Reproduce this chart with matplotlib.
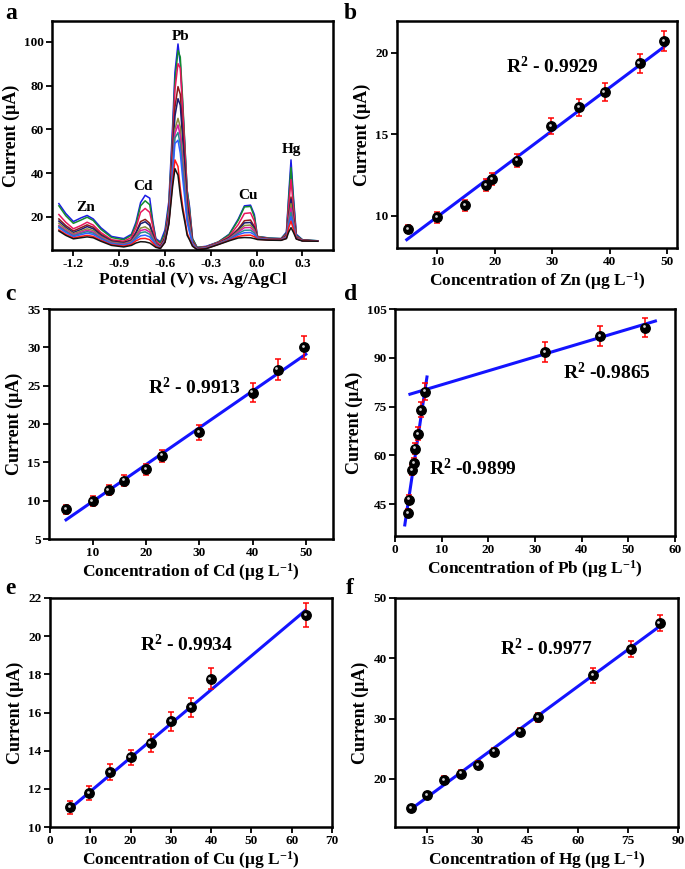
import numpy as np
import matplotlib
matplotlib.use("Agg")
import matplotlib.pyplot as plt
from matplotlib.transforms import offset_copy

plt.rcParams['font.family'] = ['Liberation Serif', 'DejaVu Serif']
plt.rcParams['font.weight'] = 'bold'
plt.rcParams['axes.labelweight'] = 'bold'
plt.rcParams['axes.unicode_minus'] = False
plt.rcParams['mathtext.fontset'] = 'custom'
plt.rcParams['mathtext.rm'] = 'Liberation Serif:bold'
plt.rcParams['mathtext.bf'] = 'Liberation Serif:bold'
plt.rcParams['mathtext.it'] = 'Liberation Serif:bold'
plt.rcParams['mathtext.default'] = 'bf'

# ---- panel a : stripping voltammograms ----
potential = [-1.295, -1.25, -1.20, -1.15, -1.11, -1.07, -1.02, -0.95, -0.87, -0.82,
             -0.79, -0.76, -0.73, -0.70, -0.68, -0.66, -0.63, -0.60, -0.575, -0.55,
             -0.535, -0.515, -0.50, -0.485, -0.47, -0.455, -0.44, -0.42, -0.39, -0.33,
             -0.25, -0.18, -0.12, -0.08, -0.04, -0.015, 0.005, 0.08, 0.16, 0.195,
             0.21, 0.225, 0.24, 0.26, 0.30, 0.40]

curves = [
    [26.0, 21.5, 17.8, 19.5, 20.6, 19.0, 15.0, 11.0, 10.0, 12.0, 17.5, 26.5, 29.8, 28.5, 18.0, 10.0,
     8.5, 14.0, 27.0, 62.0, 86.0, 99.0, 90.0, 72.0, 52.0, 32.0, 25.0, 10.0, 6.0, 6.5, 8.5, 12.0,
     19.0, 25.0, 25.3, 21.0, 11.0, 10.3, 10.0, 13.0, 30.0, 46.0, 30.0, 12.0, 9.5, 9.0],
    [25.0, 20.5, 17.0, 18.5, 19.8, 18.3, 14.3, 10.5, 9.5, 11.5, 16.5, 25.0, 27.3, 25.5, 17.0, 9.5,
     8.0, 12.5, 25.0, 58.0, 82.0, 96.0, 93.0, 74.0, 53.0, 32.0, 24.0, 10.0, 6.0, 6.3, 8.5, 11.8,
     18.5, 24.5, 24.7, 20.0, 11.0, 10.2, 10.0, 12.5, 28.0, 42.5, 28.0, 11.5, 9.5, 9.0],
    [21.0, 17.5, 14.5, 16.0, 17.5, 16.2, 12.8, 9.5, 8.8, 10.5, 15.0, 22.0, 23.8, 22.0, 15.5, 9.0,
     7.0, 11.0, 23.0, 55.0, 78.0, 90.0, 88.0, 70.0, 50.0, 30.0, 22.0, 9.0, 5.8, 6.2, 8.3, 11.0,
     16.5, 21.5, 21.8, 18.0, 10.8, 10.0, 9.8, 12.0, 25.0, 37.0, 25.0, 11.0, 9.3, 8.9],
    [19.0, 16.0, 13.5, 15.0, 16.3, 15.2, 12.0, 9.0, 8.3, 9.5, 13.0, 17.8, 18.8, 17.0, 12.5, 8.0,
     6.3, 10.5, 21.0, 50.0, 70.0, 79.5, 76.0, 60.0, 44.0, 27.0, 20.0, 8.5, 5.6, 6.0, 8.0, 10.5,
     14.5, 18.2, 18.5, 15.5, 10.5, 9.9, 9.7, 11.5, 20.5, 29.0, 20.0, 10.5, 9.2, 8.9],
    [18.0, 15.2, 12.8, 14.2, 15.5, 14.5, 11.5, 8.7, 8.0, 9.2, 12.5, 16.8, 17.7, 16.0, 11.8, 7.8,
     6.2, 10.0, 20.0, 47.0, 66.0, 74.0, 71.0, 56.0, 41.0, 25.0, 18.5, 8.3, 5.5, 6.0, 7.9, 10.3,
     14.0, 17.2, 17.4, 14.8, 10.4, 9.8, 9.6, 11.3, 20.0, 28.0, 19.5, 10.4, 9.2, 8.9],
    [17.0, 14.5, 12.2, 13.5, 14.5, 13.7, 11.0, 8.4, 7.7, 8.8, 11.5, 14.8, 15.4, 14.0, 10.8, 7.5,
     6.0, 9.5, 19.0, 44.0, 60.0, 65.0, 61.0, 48.0, 36.0, 22.0, 16.5, 8.0, 5.4, 5.9, 7.8, 10.0,
     13.5, 16.0, 16.2, 14.0, 10.3, 9.7, 9.5, 11.0, 19.0, 26.0, 18.5, 10.3, 9.1, 8.9],
    [16.0, 13.8, 11.7, 12.9, 13.8, 13.0, 10.6, 8.1, 7.4, 8.5, 11.0, 13.7, 14.2, 13.0, 10.2, 7.2,
     5.9, 9.2, 18.5, 43.0, 58.0, 62.0, 57.0, 45.0, 33.0, 20.5, 15.0, 7.8, 5.3, 5.8, 7.7, 9.8,
     13.0, 15.0, 15.1, 13.2, 10.2, 9.6, 9.5, 10.8, 18.0, 24.0, 17.5, 10.2, 9.1, 8.9],
    [15.5, 13.3, 11.3, 12.4, 13.2, 12.5, 10.2, 7.9, 7.2, 8.2, 10.5, 12.7, 13.1, 12.0, 9.7, 7.0,
     5.8, 9.0, 18.0, 42.0, 56.0, 58.5, 53.0, 42.0, 31.0, 19.0, 14.0, 7.6, 5.2, 5.7, 7.6, 9.6,
     12.4, 13.8, 13.9, 12.5, 10.0, 9.5, 9.4, 10.6, 17.0, 22.0, 16.5, 10.1, 9.0, 8.9],
    [15.0, 12.8, 10.9, 11.8, 12.5, 11.9, 9.8, 7.6, 7.0, 7.9, 9.8, 11.3, 11.6, 10.8, 9.0, 6.8,
     5.7, 8.8, 17.5, 40.0, 53.5, 55.0, 49.0, 38.0, 28.0, 17.5, 13.0, 7.4, 5.1, 5.6, 7.5, 9.4,
     11.8, 12.7, 12.8, 11.8, 9.9, 9.5, 9.4, 10.4, 16.0, 20.0, 15.5, 10.0, 9.0, 8.9],
    [14.0, 12.0, 10.3, 11.0, 11.5, 11.0, 9.2, 7.2, 6.6, 7.4, 9.0, 10.0, 10.1, 9.5, 8.0, 6.4,
     5.6, 8.5, 17.0, 36.0, 46.0, 43.0, 33.0, 25.0, 19.0, 12.5, 10.0, 6.8, 5.0, 5.5, 7.4, 9.2,
     11.0, 11.5, 11.6, 10.9, 9.7, 9.4, 9.3, 10.2, 15.0, 18.0, 14.5, 9.9, 9.0, 8.8],
    [13.5, 11.5, 9.9, 10.4, 10.8, 10.4, 8.8, 6.9, 6.2, 6.9, 8.0, 8.6, 8.5, 8.0, 7.0, 6.0,
     5.5, 8.3, 16.5, 34.0, 42.0, 39.0, 30.0, 23.0, 17.5, 11.5, 9.5, 6.5, 5.0, 5.4, 7.3, 9.0,
     10.3, 10.5, 10.4, 10.0, 9.6, 9.3, 9.2, 10.0, 13.0, 15.0, 13.0, 9.8, 8.9, 8.8],
]
curve_colors = ['#1a1ae6', '#138a2e', '#e8175d', '#8b1a1a', '#1c1c70', '#8c8a3a',
                '#d81ba0', '#2a8c8c', '#3060ff', '#ff1a1a', '#141414']

peak_names = ['Zn', 'Cd', 'Pb', 'Cu', 'Hg']
peak_label_x = [-1.117, -0.742, -0.501, -0.054, 0.23]
peak_label_y = [24.3, 34.0, 102.3, 29.5, 50.8]

# ---- calibration data ----
zn_conc = [4.96, 10.0, 14.9, 18.5, 19.6, 23.9, 29.8, 34.7, 39.1, 45.2, 49.5]
zn_curr = [9.18, 9.92, 10.65, 11.88, 12.24, 13.39, 15.51, 16.65, 17.59, 19.35, 20.71]
zn_err = [0.25, 0.33, 0.33, 0.36, 0.37, 0.41, 0.48, 0.51, 0.53, 0.57, 0.62]
zn_fit_x, zn_fit_y = [4.7, 49.6], [8.55, 20.4]

cd_conc = [5.0, 10.0, 13.0, 15.9, 20.0, 23.1, 30.0, 40.0, 44.7, 49.7]
cd_curr = [8.87, 9.96, 11.39, 12.6, 14.09, 15.87, 18.9, 24.1, 27.1, 30.0]
cd_err = [0.6, 0.6, 0.6, 0.7, 0.75, 0.8, 1.0, 1.2, 1.4, 1.5]
cd_fit_x, cd_fit_y = [5.0, 50.0], [7.5, 29.1]

pb_conc = [2.8, 3.1, 3.7, 4.05, 4.3, 4.9, 5.6, 6.4, 32.1, 44.0, 53.6]
pb_curr = [42.3, 46.4, 55.5, 57.5, 62.1, 66.6, 74.0, 79.6, 91.8, 96.7, 99.3]
pb_err = [1.2, 1.3, 1.5, 1.6, 1.8, 2.0, 2.3, 2.6, 3.0, 3.0, 3.0]
pb_fit_low_x, pb_fit_low_y = [2.1, 6.85], [38.6, 84.1]
pb_fit_high_x, pb_fit_high_y = [3.2, 55.8], [78.8, 101.3]

cu_conc = [4.97, 9.8, 14.9, 20.0, 25.0, 30.0, 35.0, 39.9, 63.6]
cu_curr = [11.03, 11.78, 12.88, 13.65, 14.4, 15.54, 16.27, 17.76, 21.1]
cu_err = [0.35, 0.35, 0.4, 0.4, 0.45, 0.5, 0.5, 0.55, 0.63]
cu_fit_x, cu_fit_y = [4.6, 63.4], [10.9, 21.35]

hg_conc = [10.1, 15.0, 20.1, 25.0, 30.1, 35.0, 42.7, 48.1, 64.7, 76.0, 84.5]
hg_curr = [15.13, 17.34, 19.83, 20.83, 22.27, 24.48, 27.8, 30.18, 37.16, 41.53, 45.85]
hg_err = [0.4, 0.5, 0.6, 0.6, 0.6, 0.6, 0.7, 0.8, 1.2, 1.35, 1.4]
hg_fit_x, hg_fit_y = [9.8, 84.5], [14.85, 45.3]

W, H = 685, 869
fig = plt.figure(figsize=(W / 100, H / 100), dpi=100)


def box(l, r, t, b):
    return [l / W, 1 - b / H, (r - l) / W, (b - t) / H]


def style(ax):
    for s in ax.spines.values():
        s.set_linewidth(1.8)
    ax.tick_params(direction='out', length=4, width=1.3, labelsize=9.5,
                   top=False, right=False, pad=2)
    ax.set_ylabel('Current (\u03bcA)', fontsize=13, labelpad=3)


def calib(ax, x, y, err):
    ax.errorbar(x, y, yerr=err, fmt='none', ecolor='red', elinewidth=1.1,
                capsize=2.2, capthick=1.1, zorder=3)
    ax.plot(x, y, 'o', color='black', ms=6.8, zorder=4)
    hl = offset_copy(ax.transData, fig=fig, x=-1.3, y=1.3, units='dots')
    ax.plot(x, y, 'o', color='#d0d0d0', ms=2.0, mew=0, transform=hl, zorder=5)


def fitline(ax, fx, fy):
    ax.plot(fx, fy, color='#1414ff', lw=2.2, zorder=2)


def xlab(ax, metal):
    ax.set_xlabel('Concentration of %s (\u03bcg L$^{-1}$)' % metal, fontsize=12.5, labelpad=1)


# panel a
ax = fig.add_axes(box(52, 333, 21, 250))
for c, col in zip(curves, curve_colors):
    ax.plot(potential, c, color=col, lw=1.1)
for name, px, py in zip(peak_names, peak_label_x, peak_label_y):
    ax.text(px, py, name, ha='center', va='center', fontsize=11, fontweight='bold')
ax.set_xlim(-1.34, 0.50)
ax.set_ylim(4.8, 109.5)
ax.set_xticks([-1.2, -0.9, -0.6, -0.3, 0.0, 0.3])
ax.set_yticks([20, 40, 60, 80, 100])
style(ax)
ax.set_xlabel('Potential (V) vs. Ag/AgCl', fontsize=12.5, labelpad=1)

# panel b
ax = fig.add_axes(box(397, 677, 21, 248))
fitline(ax, zn_fit_x, zn_fit_y)
calib(ax, zn_conc, zn_curr, zn_err)
ax.set_xlim(3.0, 51.7)
ax.set_ylim(8.04, 21.94)
ax.set_xticks([10, 20, 30, 40, 50])
ax.set_yticks([10, 15, 20])
style(ax)
xlab(ax, 'Zn')
ax.text(0.39, 0.77, 'R$^{2}$ - 0.9929', transform=ax.transAxes, fontsize=14)

# panel c
ax = fig.add_axes(box(49, 333, 309, 539))
fitline(ax, cd_fit_x, cd_fit_y)
calib(ax, cd_conc, cd_curr, cd_err)
ax.set_xlim(1.8, 55.1)
ax.set_ylim(5, 35)
ax.set_xticks([10, 20, 30, 40, 50])
ax.set_yticks([5, 10, 15, 20, 25, 30, 35])
style(ax)
xlab(ax, 'Cd')
ax.text(0.35, 0.63, 'R$^{2}$ - 0.9913', transform=ax.transAxes, fontsize=14)

# panel d
ax = fig.add_axes(box(395, 675, 309, 536))
fitline(ax, pb_fit_low_x, pb_fit_low_y)
fitline(ax, pb_fit_high_x, pb_fit_high_y)
calib(ax, pb_conc, pb_curr, pb_err)
ax.set_xlim(0, 60)
ax.set_ylim(35.2, 105)
ax.set_xticks([0, 10, 20, 30, 40, 50, 60])
ax.set_yticks([45, 60, 75, 90, 105])
style(ax)
xlab(ax, 'Pb')
ax.text(0.6, 0.69, 'R$^{2}$ -0.9865', transform=ax.transAxes, fontsize=14)
ax.text(0.12, 0.27, 'R$^{2}$ -0.9899', transform=ax.transAxes, fontsize=14)

# panel e
ax = fig.add_axes(box(50, 332, 598, 827))
fitline(ax, cu_fit_x, cu_fit_y)
calib(ax, cu_conc, cu_curr, cu_err)
ax.set_xlim(0, 70)
ax.set_ylim(10, 22)
ax.set_xticks([0, 10, 20, 30, 40, 50, 60, 70])
ax.set_yticks([10, 12, 14, 16, 18, 20, 22])
style(ax)
xlab(ax, 'Cu')
ax.text(0.32, 0.77, 'R$^{2}$ - 0.9934', transform=ax.transAxes, fontsize=14)

# panel f
ax = fig.add_axes(box(395, 678, 598, 827))
fitline(ax, hg_fit_x, hg_fit_y)
calib(ax, hg_conc, hg_curr, hg_err)
ax.set_xlim(5.3, 90)
ax.set_ylim(12, 50)
ax.set_xticks([15, 30, 45, 60, 75, 90])
ax.set_yticks([20, 30, 40, 50])
style(ax)
xlab(ax, 'Hg')
ax.text(0.37, 0.75, 'R$^{2}$ - 0.9977', transform=ax.transAxes, fontsize=14)

# panel letters
for letter, lx, ly in [('a', 5, 3), ('b', 344, 3), ('c', 5, 284), ('d', 344, 284),
                       ('e', 5, 578), ('f', 346, 578)]:
    fig.text(lx / W, 1 - ly / H, letter, fontsize=17, fontweight='bold', va='top')

fig.savefig('out.png', dpi=100)
